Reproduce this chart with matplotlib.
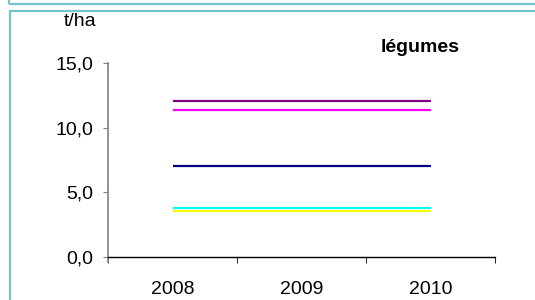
import numpy as np
import matplotlib.pyplot as plt
from matplotlib.patches import Rectangle

plt.rcParams['font.family'] = ['Liberation Sans', 'DejaVu Sans']

years = ['2008', '2009', '2010']
series_colors = ['#800080', '#ff00ff', '#000080', '#00ffff', '#ffff00']
series_values = [
    [12.07, 12.07, 12.07],
    [11.37, 11.37, 11.37],
    [7.0, 7.0, 7.0],
    [3.81, 3.81, 3.81],
    [3.56, 3.56, 3.56],
]

W, H = 535, 300
fs = 14
fig = plt.figure(figsize=(W / 100, H / 100), dpi=100)

# teal frames (bottom of previous box + current box)
teal = '#72c6c9'
fig.patches.append(Rectangle((8.5 / W, 1 - 3.5 / H), 1.2, 1, transform=fig.transFigure,
                             fill=False, edgecolor=teal, linewidth=1.6))
fig.patches.append(Rectangle((10 / W, -0.2), 1.2, 1.2 - 10.5 / H, transform=fig.transFigure,
                             fill=False, edgecolor=teal, linewidth=1.6))

ax = fig.add_axes([108 / W, 43 / H, (495 - 108) / W, (257 - 63) / H])
x = np.arange(len(years))
for vals, c in zip(series_values, series_colors):
    ax.plot(x, vals, color=c, linewidth=1.6, solid_capstyle='butt')

ax.set_xlim(-0.5, 2.5)
ax.set_ylim(0, 15)
ax.set_yticks([0, 5, 10, 15])
ax.set_yticklabels(['0,0', '5,0', '10,0', '15,0'])
ax.set_xticks(x)
ax.set_xticklabels(years)
ax.set_xticks([-0.5, 0.5, 1.5, 2.5], minor=True)
ax.tick_params(axis='both', which='both', labelsize=fs)
ax.tick_params(axis='x', which='major', length=0, pad=17)
ax.tick_params(axis='x', which='minor', length=4.5, direction='out', color='black')
ax.tick_params(axis='y', length=3.8, color='#808080', pad=7)

ax.spines['top'].set_visible(False)
ax.spines['right'].set_visible(False)
ax.spines['left'].set_color('#808080')
ax.spines['left'].set_linewidth(1.2)
ax.spines['left'].set_bounds(-0.35, 15)
ax.spines['bottom'].set_color('black')
ax.spines['bottom'].set_linewidth(1.0)
ax.spines['bottom'].set_position(('data', 0))

fig.text(80 / W, 1 - 22 / H, 't/ha', fontsize=fs, ha='center', va='center')
fig.text(420 / W, 1 - 48 / H, 'légumes', fontsize=fs, fontweight='bold', ha='center', va='center')

fig.savefig('out.png', dpi=100)
